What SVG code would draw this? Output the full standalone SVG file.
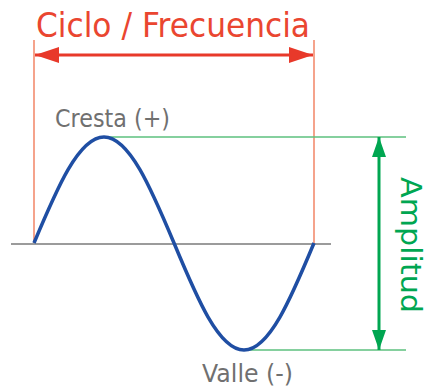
<svg xmlns="http://www.w3.org/2000/svg" width="428" height="387" viewBox="0 0 428 387">
<defs>
<style>
.red{stroke:#e8392a;stroke-width:3;fill:none}
.redguide{stroke:#f5a38c;stroke-width:2;fill:none}
.green{stroke:#00a651;stroke-width:3;fill:none}
.greenguide{stroke:#5cc07e;stroke-width:1.5;fill:none}
.lbl{font-family:"DejaVu Sans","Liberation Sans",sans-serif}
</style>
<marker id="ar" viewBox="0 0 24 16" refX="24" refY="8" markerWidth="24" markerHeight="16" markerUnits="userSpaceOnUse" orient="auto-start-reverse">
<path d="M0,0 L24,8 L0,16 Z" fill="#e8392a"/>
</marker>
<marker id="ag" viewBox="0 0 20 14" refX="20" refY="7" markerWidth="20" markerHeight="14" markerUnits="userSpaceOnUse" orient="auto-start-reverse">
<path d="M0,0 L20,7 L0,14 Z" fill="#00a651"/>
</marker>
</defs>
<rect width="428" height="387" fill="#fff"/>
<g id="guides">
<line class="redguide" x1="34" y1="40" x2="34" y2="243"/>
<line class="redguide" x1="314" y1="40" x2="314" y2="243"/>
<line class="greenguide" x1="104" y1="137" x2="406" y2="137"/>
<line class="greenguide" x1="244" y1="350" x2="406" y2="350"/>
</g>
<g id="axis">
<line x1="11" y1="244" x2="331" y2="244" stroke="#7a7a7a" stroke-width="1.5"/>
</g>
<g id="wave">
<path d="M34,243 C56.8,188.7 78.7,137 104,137 C129.3,137 151.2,188.7 174,243 C196.8,297.8 218.7,350 244,350 C269.3,350 291.2,297.8 314,243" stroke="#1f4ea3" stroke-width="3.5" fill="none"/>
</g>
<g id="connectors">
<line class="red" x1="35" y1="55" x2="313" y2="55" marker-start="url(#ar)" marker-end="url(#ar)"/>
<line class="green" x1="379" y1="137" x2="379" y2="350" marker-start="url(#ag)" marker-end="url(#ag)"/>
</g>
<g id="title">
<text class="lbl" x="36" y="37" font-size="33" fill="#ea4630" textLength="274" lengthAdjust="spacingAndGlyphs">Ciclo / Frecuencia</text>
</g>
<g id="cresta">
<text class="lbl" x="55" y="127" font-size="25" fill="#707070" textLength="115" lengthAdjust="spacingAndGlyphs">Cresta (+)</text>
</g>
<g id="valle">
<text class="lbl" x="202" y="382" font-size="25" fill="#707070" textLength="91" lengthAdjust="spacingAndGlyphs">Valle (-)</text>
</g>
<g id="amplitud">
<text class="lbl" transform="translate(401,177) rotate(90)" x="0" y="0" font-size="28" fill="#00a651" textLength="136" lengthAdjust="spacingAndGlyphs">Amplitud</text>
</g>
</svg>
